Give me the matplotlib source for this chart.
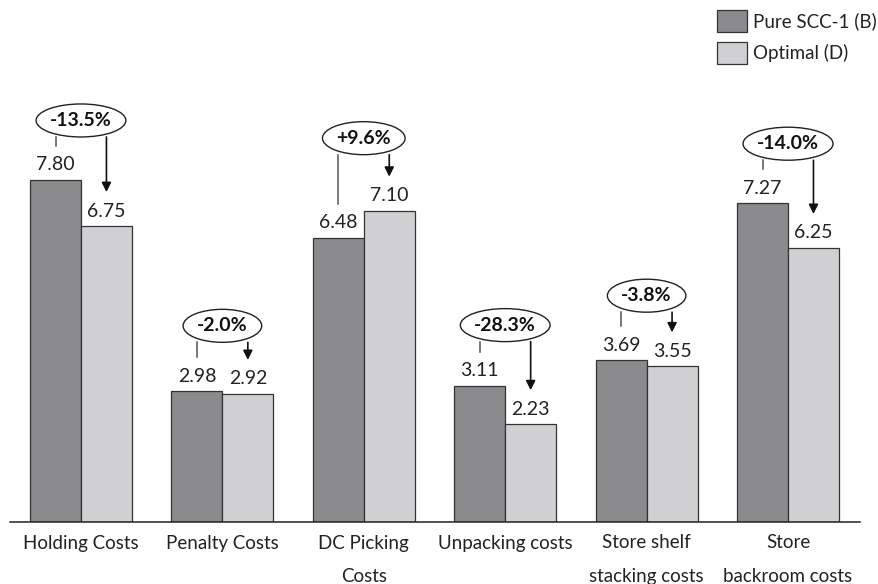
import matplotlib.pyplot as plt
import numpy as np
from matplotlib.patches import Rectangle, Ellipse

plt.rcParams['font.family'] = ['Lato', 'DejaVu Sans']

categories = ['Holding Costs', 'Penalty Costs', 'DC Picking\nCosts', 'Unpacking costs',
              'Store shelf\nstacking costs', 'Store\nbackroom costs']
pure_scc = [7.80, 2.98, 6.48, 3.11, 3.69, 7.27]
optimal = [6.75, 2.92, 7.10, 2.23, 3.55, 6.25]
series_names = ['Pure SCC-1 (B)', 'Optimal (D)']

# layout (pixels)
W, H = 879, 584
baseline_px = 522
badge_gap = [43, 49, 56, 44, 48, 43]
dark, light = '#8b8b8e', '#d0d0d2'
fs = 13.5

fig = plt.figure(figsize=(W / 100, H / 100), dpi=100)
ax = fig.add_axes([10 / W, (H - baseline_px) / H, 850 / W, baseline_px / H])
ymax = baseline_px / 43.85
ax.set_ylim(0, ymax)
ax.set_xlim(-0.502, 5.509)
upp = ymax / baseline_px          # y data units per pixel
xpp = (5.509 + 0.502) / 850       # x data units per pixel

x = np.arange(len(categories))
bw = 0.36
ax.bar(x - bw / 2, pure_scc, bw, color=dark, edgecolor='#333333', linewidth=0.9, label=series_names[0])
ax.bar(x + bw / 2, optimal, bw, color=light, edgecolor='#333333', linewidth=0.9, label=series_names[1])

badges = []
for i in range(len(categories)):
    b, d = pure_scc[i], optimal[i]
    for xx, v in [(x[i] - bw / 2, b), (x[i] + bw / 2, d)]:
        ax.text(xx, v + 15 * upp, f'{v:.2f}', ha='center', va='center', fontsize=fs + 0.5, color='#222')
    top = max(b, d)
    e_bottom = top + badge_gap[i] * upp
    pct = (d - b) / b * 100
    t = ax.text(x[i], e_bottom + 16.5 * upp, f'{pct:+.1f}%', ha='center', va='center', fontsize=fs + 0.5,
                fontweight='bold', color='#111', zorder=5)
    badges.append((t, x[i], e_bottom + 16.5 * upp))
    ax.plot([x[i] - bw / 2] * 2, [e_bottom, b + 34 * upp], color='#555', lw=1.1)
    ax.annotate('', xy=(x[i] + bw / 2, d + 34 * upp), xytext=(x[i] + bw / 2, e_bottom),
                arrowprops=dict(arrowstyle='-|>', color='#111', lw=1.2, mutation_scale=14,
                                shrinkA=0, shrinkB=0))

# ellipses sized to the text
fig.canvas.draw()
rend = fig.canvas.get_renderer()
for t, cx, cy in badges:
    tw = t.get_window_extent(rend).width
    ax.add_patch(Ellipse((cx, cy), (tw + 28) * xpp, 33 * upp, facecolor='white',
                         edgecolor='#222', linewidth=1.0, zorder=4))

ax.set_xticks(x)
ax.set_xticklabels(categories, fontsize=fs, color='#222', linespacing=2.15)
ax.tick_params(axis='x', length=0, pad=9)
ax.set_yticks([])
for s in ['top', 'right', 'left']:
    ax.spines[s].set_visible(False)
ax.spines['bottom'].set_color('#222')
ax.spines['bottom'].set_linewidth(1.1)

# legend drawn by hand
for k, (name, col) in enumerate(zip(series_names, [dark, light])):
    y0 = 10 + k * 32
    fig.patches.append(Rectangle((717 / W, 1 - (y0 + 22) / H), 30 / W, 22 / H, transform=fig.transFigure,
                                 facecolor=col, edgecolor='#333333', linewidth=0.9))
    fig.text(753 / W, 1 - (y0 + 11) / H, name, ha='left', va='center', fontsize=fs, color='#222')

fig.savefig('out.png', dpi=100)
